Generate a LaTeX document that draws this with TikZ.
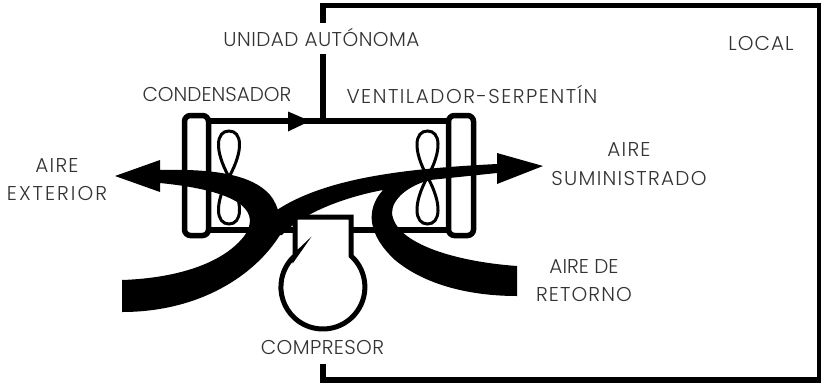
\documentclass[tikz,border=0pt]{standalone}
\usepackage{fontspec}
\setmainfont{Poppins}[UprightFont=* Light]
\newcommand{\lsp}[2]{{\addfontfeatures{LetterSpace=#1}#2}}
\tikzset{
  px/.style={x=1pt,y=-1pt},
  lbl/.style={text=black!80,font=\fontsize{20}{28.5}\selectfont,align=center,inner sep=0pt},
  pipe/.style={line width=5.5pt,black},
  coil/.style={line width=5.5pt,black,rounded corners=6pt,fill=none},
  fan/.style={line width=3pt,black},
  band/.style={fill=black,draw=none}
}
\begin{document}
\begin{tikzpicture}[px]
\useasboundingbox (0,0) rectangle (821,383);
\fill[white] (0,0) rectangle (821,383);
% wall
\coordinate (w1) at (323,121);
\coordinate (w0) at (323,54);
\coordinate (wa) at (323,23);
\coordinate (w2) at (323,5.5);
\coordinate (w3) at (820,5.5);
\coordinate (w4) at (820,380);
\coordinate (w5) at (323,380);
\coordinate (w6) at (323,364);
\draw[pipe] (w1)--(w0);
\draw[pipe,line join=miter] (wa)--(w2)--(w3)--(w4)--(w5)--(w6);
% pipes
\draw[pipe] (208,121) -- (448,121);
\draw[pipe] (208,230) -- (296,230);
\draw[pipe] (350,230) -- (448,230);
\fill (288,111.5) -- (310,121) -- (288,131.5) -- cycle;
% coils
\draw[coil] (184.5,115.5) rectangle (208.5,235.5);
\draw[coil] (448.5,115.5) rectangle (473.5,235.5);
% fans
\foreach \c in {229,427.5}{
  \draw[fan] (\c,177) .. controls (\c-15,150) and (\c-13,131) .. (\c,131) .. controls (\c+13,131) and (\c+15,150) .. (\c,177)
   .. controls (\c-15,204) and (\c-13,224) .. (\c,224) .. controls (\c+13,224) and (\c+15,204) .. (\c,177);
}
% air left
\fill[band] (115,176) -- (160,160) -- (160,170)
  .. controls (205,169) and (250,172) .. (270,195)
  .. controls (280,207) and (281,222) .. (280,235)
  .. controls (255,275) and (200,312) .. (122,312)
  -- (122,280)
  .. controls (180,278) and (225,262) .. (245,235)
  .. controls (258,215) and (250,192) .. (160,183)
  -- (160,192) -- cycle;
% air right
\fill[band] (543,166) -- (497,153) -- (497,164)
  .. controls (420,168) and (330,175) .. (277,210)
  -- (270,235) -- (282,235)
  .. controls (300,215) and (340,198) .. (383,190)
  .. controls (365,210) and (368,235) .. (395,260)
  .. controls (425,285) and (470,296) .. (517,296)
  -- (517,266)
  .. controls (460,262) and (395,245) .. (392,213)
  .. controls (392,198) and (410,185) .. (430,180)
  -- (497,173) -- (497,184) -- cycle;
% compressor
\draw[line width=5pt,fill=white,line join=miter] (295,255.8) -- (295,217) -- (351,217) -- (351,255.8)
  arc[start angle=-48,end angle=229,radius=42] -- cycle;
% labels
\node[lbl] (t1) at (321.5,37) {\lsp{2.3}{UNIDAD AUTÓNOMA}};
\node[lbl] (t2) at (761,43) {\lsp{5}{LOCAL}};
\node[lbl] (t3) at (217,94) {CONDENSADOR};
\node[lbl] (t4) at (472,94) {\lsp{7.5}{VENTILADOR-SERPENTÍN}};
\node[lbl] (t5) at (57,179.5) {\lsp{6}{AIRE}\\\lsp{10}{EXTERIOR}};
\node[lbl] (t6) at (629,164) {\lsp{6}{AIRE}\\\lsp{6.5}{SUMINISTRADO}};
\node[lbl] (t7) at (584,280.5) {AIRE DE\\\lsp{5.5}{RETORNO}};
\node[lbl] (t8) at (322.5,347) {\lsp{2}{COMPRESOR}};
\end{tikzpicture}
\end{document}
